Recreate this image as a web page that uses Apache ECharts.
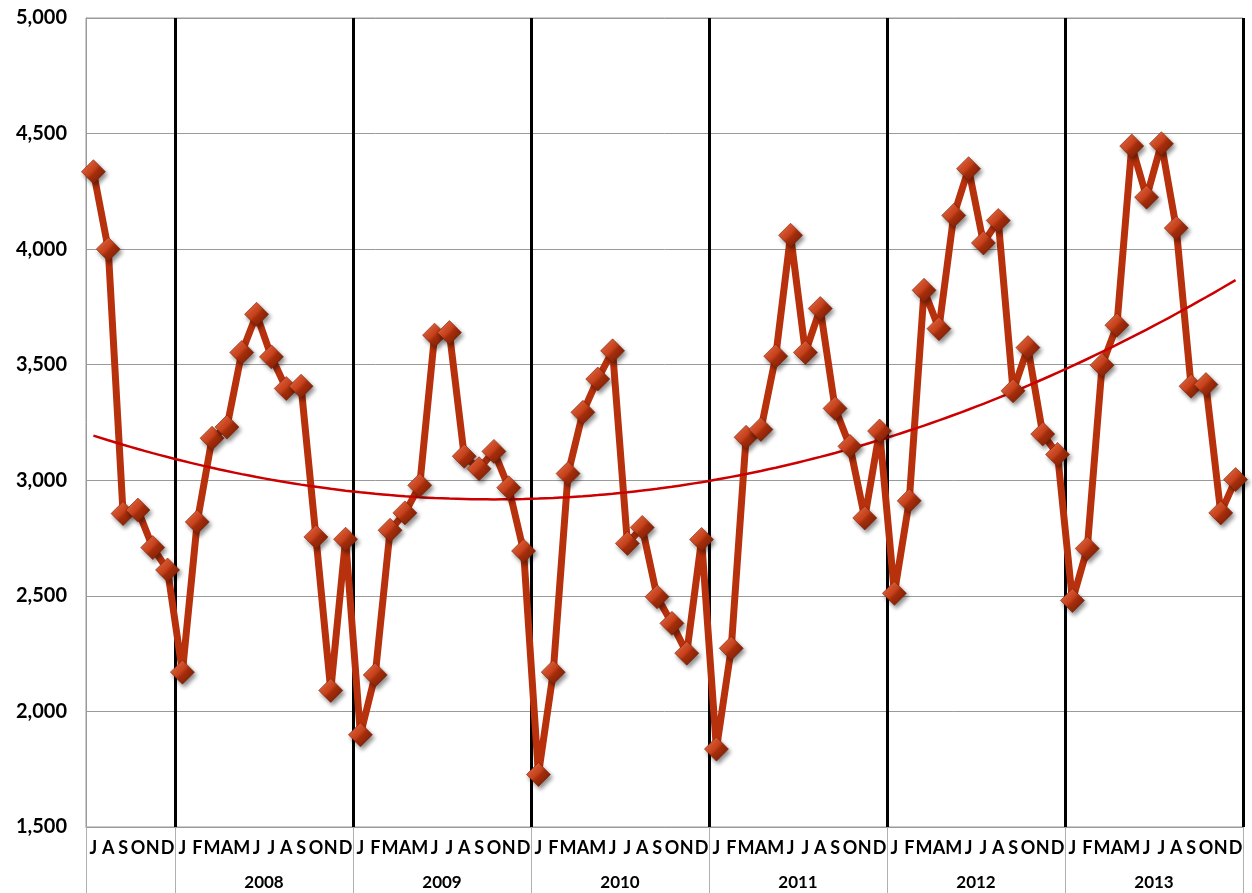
<!DOCTYPE html>
<html>
<head>
<meta charset="utf-8">
<title>Monthly series 2007–2013</title>
<script src="https://cdn.jsdelivr.net/npm/echarts@6/dist/echarts.min.js"></script>
<style>
  html, body { margin: 0; padding: 0; background: #fff; }
  #chart { width: 1252px; height: 893px; }
</style>
</head>
<body>
<div id="chart"></div>
<script>
// Months covered: July 2007 through December 2013
const monthKeys = [];
(function () {
  for (let y = 2007; y <= 2013; y++) {
    for (let m = (y === 2007 ? 7 : 1); m <= 12; m++) {
      monthKeys.push(y + '-' + String(m).padStart(2, '0'));
    }
  }
})();

const monthLetters = ['J', 'F', 'M', 'A', 'M', 'J', 'J', 'A', 'S', 'O', 'N', 'D'];
const yearLabels = ['2008', '2009', '2010', '2011', '2012', '2013'];
const yTicks = [1500, 2000, 2500, 3000, 3500, 4000, 4500, 5000];

// Monthly values, one array per year
const values2007 = [4335, 4000, 2856, 2871, 2709, 2612];
const values2008 = [2170, 2820, 3182, 3230, 3553, 3718, 3534, 3397, 3407, 2755, 2091, 2745];
const values2009 = [1899, 2158, 2784, 2859, 2978, 3628, 3639, 3104, 3050, 3125, 2968, 2694];
const values2010 = [1727, 2170, 3029, 3294, 3438, 3560, 2727, 2796, 2496, 2381, 2252, 2744];
const values2011 = [1837, 2273, 3186, 3220, 3537, 4060, 3553, 3743, 3311, 3147, 2837, 3213];
const values2012 = [2511, 2911, 3822, 3656, 4146, 4348, 4027, 4124, 3387, 3574, 3200, 3112];
const values2013 = [2480, 2705, 3498, 3671, 4446, 4225, 4456, 4091, 3407, 3414, 2859, 3003];

const values = [].concat(values2007, values2008, values2009, values2010,
                         values2011, values2012, values2013);

// Second-order polynomial trend fitted to the series by least squares
function polyFit(ys, degree) {
  const n = degree + 1;
  const A = [];
  for (let r = 0; r < n; r++) {
    A.push(new Array(n + 1).fill(0));
  }
  ys.forEach(function (y, t) {
    for (let r = 0; r < n; r++) {
      for (let c = 0; c < n; c++) A[r][c] += Math.pow(t, r + c);
      A[r][n] += y * Math.pow(t, r);
    }
  });
  for (let i = 0; i < n; i++) {
    let p = i;
    for (let k = i + 1; k < n; k++) if (Math.abs(A[k][i]) > Math.abs(A[p][i])) p = k;
    const tmp = A[i]; A[i] = A[p]; A[p] = tmp;
    for (let k = i + 1; k < n; k++) {
      const f = A[k][i] / A[i][i];
      for (let c = i; c <= n; c++) A[k][c] -= f * A[i][c];
    }
  }
  const coef = new Array(n).fill(0);
  for (let i = n - 1; i >= 0; i--) {
    let s = A[i][n];
    for (let c = i + 1; c < n; c++) s -= A[i][c] * coef[c];
    coef[i] = s / A[i][i];
  }
  return ys.map(function (_, t) {
    let v = 0;
    for (let i = 0; i < n; i++) v += coef[i] * Math.pow(t, i);
    return v;
  });
}
const trend = polyFit(values, 2);

const FONT = 'Lato, "Open Sans", sans-serif';
const GRID_GRAY = '#9a9a9a';

// Year-group boundaries and centres on a 0..N scale of month slots
const N = monthKeys.length;
const groupEdges = [0];
const groupCentres = [];
monthKeys.forEach(function (k, i) {
  if (k.slice(5) === '01') groupEdges.push(i);
});
groupEdges.push(N);
for (let g = 1; g < groupEdges.length - 1; g++) {
  groupCentres.push((groupEdges[g] + groupEdges[g + 1]) / 2);
}

const gem = new echarts.graphic.LinearGradient(0, 0, 1, 1, [
  { offset: 0, color: '#ee7a56' },
  { offset: 0.45, color: '#cc441d' },
  { offset: 0.55, color: '#a52e0c' },
  { offset: 1, color: '#6a1803' }
]);

const chart = echarts.init(document.getElementById('chart'));
chart.setOption({
  animation: false,
  backgroundColor: '#ffffff',
  grid: {
    left: 86, right: 9, top: 18, bottom: 66,
    show: true, borderColor: GRID_GRAY, borderWidth: 1
  },
  xAxis: [
    {
      type: 'category',
      data: monthKeys,
      boundaryGap: true,
      axisLine: { show: true, lineStyle: { color: GRID_GRAY, width: 1 } },
      axisTick: { show: false },
      axisLabel: {
        interval: 0,
        margin: 12,
        fontFamily: FONT,
        fontWeight: 'bold',
        fontSize: 18,
        color: '#000',
        formatter: function (k) { return monthLetters[parseInt(k.slice(5), 10) - 1]; }
      },
      splitLine: {
        show: true,
        interval: function (i, k) { return i > 0 && k.slice(5) === '01'; },
        lineStyle: { color: '#000', width: 3 }
      }
    },
    {
      type: 'value',
      position: 'bottom',
      min: 0,
      max: N,
      axisLine: { show: false },
      splitLine: { show: false },
      axisTick: {
        show: true,
        customValues: groupEdges,
        length: 66,
        lineStyle: { color: '#b0b0b0', width: 1 }
      },
      axisLabel: {
        customValues: groupCentres,
        margin: 47,
        fontFamily: FONT,
        fontWeight: 'bold',
        fontSize: 17,
        color: '#000',
        formatter: function (v) {
          const g = groupCentres.indexOf(v);
          return g >= 0 ? yearLabels[g] : '';
        }
      }
    }
  ],
  yAxis: {
    type: 'value',
    min: 1500,
    max: 5000,
    interval: 500,
    axisLine: { show: true, lineStyle: { color: GRID_GRAY } },
    axisTick: { show: false },
    splitLine: { show: true, lineStyle: { color: GRID_GRAY, width: 1 } },
    axisLabel: {
      margin: 19,
      fontFamily: FONT,
      fontWeight: 'bold',
      fontSize: 20,
      color: '#000',
      formatter: function (v) {
        return yTicks.indexOf(v) >= 0 ? v.toLocaleString('en-US') : '';
      }
    }
  },
  series: [
    {
      name: 'Monthly',
      type: 'line',
      data: values,
      z: 2,
      showSymbol: false,
      lineStyle: { color: '#b8310d', width: 7, join: 'round' }
    },
    {
      name: 'Trend',
      type: 'line',
      data: trend,
      z: 3,
      smooth: true,
      showSymbol: false,
      lineStyle: { color: '#cc0000', width: 2.5 }
    },
    {
      name: 'Markers',
      type: 'scatter',
      data: values,
      z: 4,
      symbol: 'diamond',
      symbolSize: [24, 24],
      itemStyle: {
        color: gem,
        borderColor: '#7a1f06',
        borderWidth: 0.6,
        shadowColor: 'rgba(0,0,0,0.45)',
        shadowBlur: 4,
        shadowOffsetX: 2,
        shadowOffsetY: 3,
        opacity: 1
      }
    }
  ]
});
</script>
</body>
</html>
